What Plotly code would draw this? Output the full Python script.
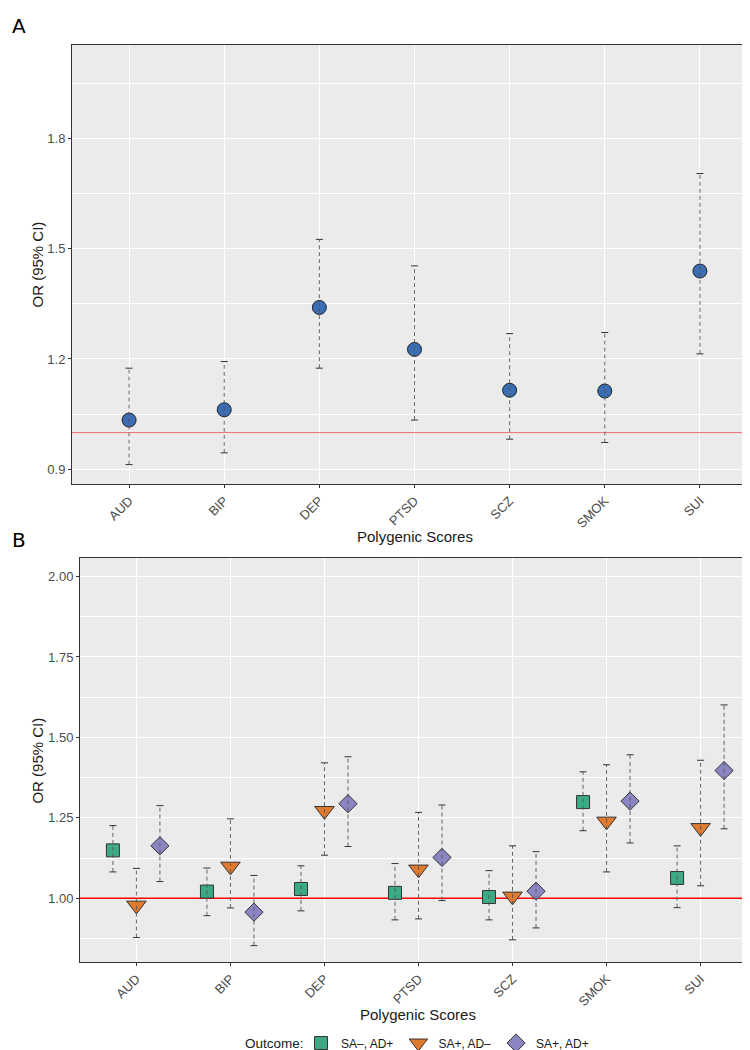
import plotly.graph_objects as go

# ---------------- data ----------------
categories = ["AUD", "BIP", "DEP", "PTSD", "SCZ", "SMOK", "SUI"]

# Panel A: overall OR with 95% CI
a_or = [1.034, 1.062, 1.340, 1.226, 1.115, 1.113, 1.439]
a_lo = [0.913, 0.945, 1.175, 1.034, 0.982, 0.973, 1.214]
a_hi = [1.175, 1.193, 1.525, 1.453, 1.269, 1.272, 1.704]

# Panel B: by outcome
outcome_labels = ["SA\u2013, AD+", "SA+, AD\u2013", "SA+, AD+"]

b1_or = [1.149, 1.021, 1.029, 1.017, 1.004, 1.299, 1.063]
b1_lo = [1.082, 0.946, 0.961, 0.933, 0.933, 1.210, 0.971]
b1_hi = [1.226, 1.094, 1.101, 1.108, 1.086, 1.393, 1.163]

b2_or = [0.978, 1.099, 1.272, 1.090, 1.006, 1.239, 1.219]
b2_lo = [0.878, 0.970, 1.134, 0.936, 0.871, 1.082, 1.039]
b2_hi = [1.093, 1.247, 1.421, 1.267, 1.163, 1.415, 1.429]

b3_or = [1.163, 0.957, 1.294, 1.127, 1.022, 1.302, 1.397]
b3_lo = [1.052, 0.853, 1.161, 0.993, 0.908, 1.172, 1.216]
b3_hi = [1.288, 1.071, 1.440, 1.290, 1.145, 1.446, 1.601]

ref_or = 1.0

a_yticks = [0.9, 1.2, 1.5, 1.8]
a_yminor = [1.05, 1.35, 1.65, 1.95]
b_yticks = [1.00, 1.25, 1.50, 1.75, 2.00]
b_yminor = [0.875, 1.125, 1.375, 1.625, 1.875]

# ---------------- styling ----------------
W, H = 750, 1050
FONT = "Liberation Sans"
TICK_COL = "#4D4D4D"
ERR_COL = "#555555"
colors = ["#3DAA87", "#E07A2E", "#8A86C4"]
symbols = ["square", "triangle-down", "diamond"]
sizes = [13, 17, 14]
dodge = [-0.25, 0.0, 0.25]


def px_x(p):
    return p / W


def px_y(p):
    return 1 - p / H


def ci_trace(xs, lo, hi, xaxis, yaxis):
    xx, yy = [], []
    for x, l, h in zip(xs, lo, hi):
        xx += [x, x, None]
        yy += [l, h, None]
    return go.Scatter(
        x=xx, y=yy, mode="lines+markers", xaxis=xaxis, yaxis=yaxis,
        line=dict(color=ERR_COL, width=0.9, dash="4px,3px"),
        marker=dict(symbol="line-ew", size=5, line=dict(color="#333333", width=1)),
        showlegend=False, hoverinfo="skip",
    )


fig = go.Figure()
idx = list(range(len(categories)))

# ---- Panel A ----
fig.add_trace(go.Scatter(
    x=[-0.6, len(categories) - 0.4], y=[ref_or, ref_or], mode="lines",
    line=dict(color="#F07070", width=1), xaxis="x", yaxis="y",
    showlegend=False, hoverinfo="skip"))
fig.add_trace(go.Scatter(
    x=idx, y=a_or, mode="markers", xaxis="x", yaxis="y",
    marker=dict(symbol="circle", size=14, color="#3A6DB3",
                line=dict(color="#222222", width=1)),
    showlegend=False))
fig.add_trace(ci_trace(idx, a_lo, a_hi, "x", "y"))

# ---- Panel B ----
fig.add_trace(go.Scatter(
    x=[-0.6, len(categories) - 0.4], y=[ref_or, ref_or], mode="lines",
    line=dict(color="#FF0000", width=1.6), xaxis="x2", yaxis="y2",
    showlegend=False, hoverinfo="skip"))
series = [(b1_or, b1_lo, b1_hi), (b2_or, b2_lo, b2_hi), (b3_or, b3_lo, b3_hi)]
for k, (o, l, h) in enumerate(series):
    xs = [i + dodge[k] for i in idx]
    fig.add_trace(go.Scatter(
        x=xs, y=o, mode="markers", xaxis="x2", yaxis="y2", name=outcome_labels[k],
        marker=dict(symbol=symbols[k], size=sizes[k], color=colors[k],
                    line=dict(color="#333333", width=1))))
for k, (o, l, h) in enumerate(series):
    xs = [i + dodge[k] for i in idx]
    fig.add_trace(ci_trace(xs, l, h, "x2", "y2"))

axis_common = dict(
    showline=True, mirror=True, linecolor="#333333", linewidth=1,
    ticks="outside", ticklen=3, tickcolor="#333333", tickwidth=1,
    gridcolor="#FFFFFF", gridwidth=1.1, zeroline=False,
    tickfont=dict(family=FONT, size=13, color=TICK_COL),
)

xcat = dict(axis_common, tickmode="array", tickvals=idx, ticktext=categories,
            tickangle=-45, range=[-0.6, len(categories) - 0.4])

fig.update_layout(
    width=W, height=H,
    margin=dict(l=0, r=0, t=0, b=0),
    paper_bgcolor="white", plot_bgcolor="#EBEBEB",
    font=dict(family=FONT, color="#1A1A1A"),
    xaxis=dict(xcat, domain=[px_x(64), px_x(749)], anchor="y"),
    yaxis=dict(axis_common, domain=[px_y(477), px_y(37)], anchor="x",
               range=[0.860, 2.0535], tickmode="array", tickvals=a_yticks,
               tickformat=".1f",
               minor=dict(tickmode="array", tickvals=a_yminor, showgrid=True,
                          gridcolor="#FFFFFF", gridwidth=0.5, ticks="")),
    xaxis2=dict(xcat, domain=[px_x(72), px_x(749)], anchor="y2"),
    yaxis2=dict(axis_common, domain=[px_y(956), px_y(551)], anchor="x2",
                range=[0.8015, 2.0577], tickmode="array", tickvals=b_yticks,
                tickformat=".2f",
                minor=dict(tickmode="array", tickvals=b_yminor, showgrid=True,
                           gridcolor="#FFFFFF", gridwidth=0.5, ticks="")),
    legend=dict(
        orientation="h", x=px_x(293), xanchor="left", y=px_y(1037), yanchor="middle",
        font=dict(family=FONT, size=12, color="#1A1A1A"),
        bgcolor="rgba(0,0,0,0)", itemwidth=30, tracegroupgap=0,
    ),
)

annots = [
    dict(text="A", x=px_x(2), y=px_y(4), xanchor="left", yanchor="top",
         font=dict(family="DejaVu Sans", size=20, color="#000000")),
    dict(text="B", x=px_x(2), y=px_y(519), xanchor="left", yanchor="top",
         font=dict(family="DejaVu Sans", size=20, color="#000000")),
    dict(text="OR (95% CI)", x=px_x(30), y=px_y(257), textangle=-90,
         xanchor="center", yanchor="middle", font=dict(family=FONT, size=15)),
    dict(text="OR (95% CI)", x=px_x(30), y=px_y(754), textangle=-90,
         xanchor="center", yanchor="middle", font=dict(family=FONT, size=15)),
    dict(text="Polygenic Scores", x=px_x(407), y=px_y(519), xanchor="center",
         yanchor="top", font=dict(family=FONT, size=15)),
    dict(text="Polygenic Scores", x=px_x(410), y=px_y(998), xanchor="center",
         yanchor="top", font=dict(family=FONT, size=15)),
    dict(text="Outcome:", x=px_x(298), y=px_y(1037), xanchor="right",
         yanchor="middle", font=dict(family=FONT, size=13.5)),
]
for a in annots:
    a.update(xref="paper", yref="paper", showarrow=False)
fig.update_layout(annotations=annots)

fig.write_html("out.html")
